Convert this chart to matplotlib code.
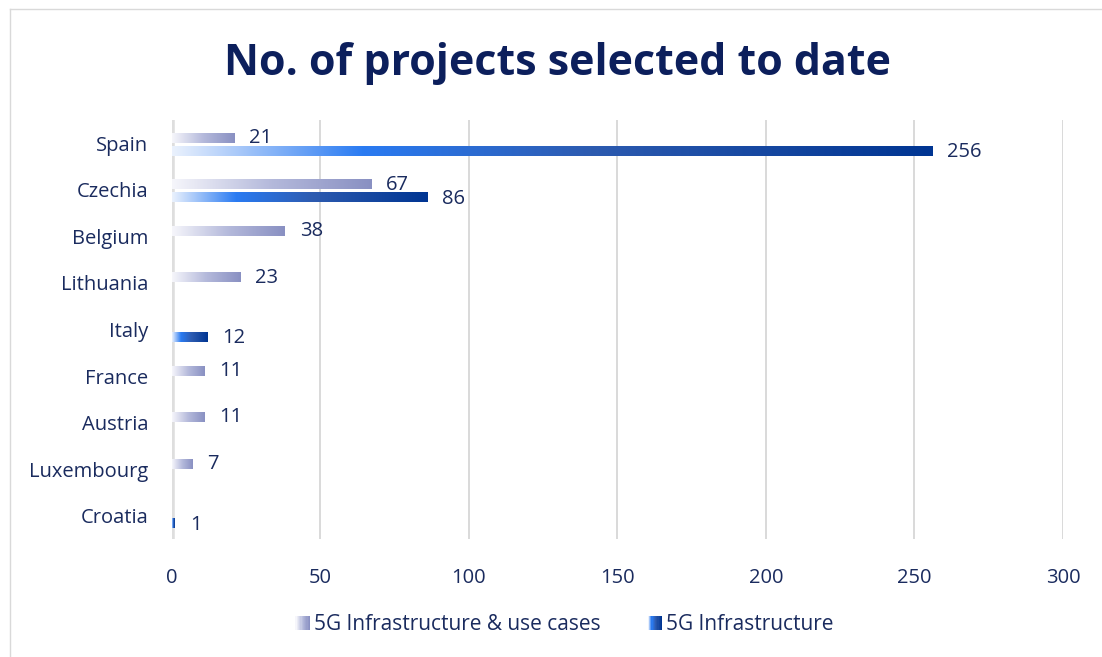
import numpy as np
import matplotlib
matplotlib.use('Agg')
import matplotlib.pyplot as plt
from matplotlib.colors import LinearSegmentedColormap
from matplotlib.patches import Rectangle
from matplotlib.legend_handler import HandlerBase

countries = ['Spain', 'Czechia', 'Belgium', 'Lithuania', 'Italy',
             'France', 'Austria', 'Luxembourg', 'Croatia']
useCases = [21, 67, 38, 23, None, 11, 11, 7, None]
infra = [256, 86, None, None, 12, None, None, None, 1]
seriesNames = ['5G Infrastructure & use cases', '5G Infrastructure']
xTicks = [0, 50, 100, 150, 200, 250, 300]

textColor = '#1a2b5e'
plt.rcParams['font.family'] = ['Open Sans', 'DejaVu Sans']

cmapUse = LinearSegmentedColormap.from_list('use', ['#f6f6fb', '#b4b9db', '#8990c2'])
cmapInfra = LinearSegmentedColormap.from_list(
    'infra', [(0.0, '#eaf1fd'), (0.25, '#2a7bf2'), (0.55, '#2d5bb0'), (1.0, '#003592')])


# legend marker drawn as a row of thin slices so it shows the gradient
class GradientHandler(HandlerBase):
    def __init__(self, cmap):
        super().__init__()
        self.cmap = cmap

    def create_artists(self, legend, orig_handle, xdescent, ydescent,
                       width, height, fontsize, trans):
        steps = 12
        side = height * 1.0
        x0 = width - side
        arts = []
        for i in range(steps):
            r = Rectangle((x0 - xdescent + side * i / steps, -ydescent),
                          side / steps + 0.1, side,
                          facecolor=self.cmap(i / (steps - 1)), edgecolor='none',
                          transform=trans)
            arts.append(r)
        return arts


def drawBar(ax, value, yc, h, cmap):
    grad = np.linspace(0, 1, 256).reshape(1, -1)
    ax.imshow(grad, cmap=cmap, aspect='auto', interpolation='bilinear',
              extent=[0, value, yc + h / 2, yc - h / 2], zorder=3)


fig = plt.figure(figsize=(11.02, 6.57), dpi=100)
ax = fig.add_axes([0.156, 0.1796, 0.8086, 0.6378])

barH = 0.2
offset = 0.14
shift = 0.03
for i, (a, b) in enumerate(zip(useCases, infra)):
    if a is not None:
        drawBar(ax, a, i - offset + shift, barH, cmapUse)
        ax.text(a + 5, i - offset + shift, str(a), va='center', ha='left',
                fontsize=14.5, color=textColor, zorder=4)
    if b is not None:
        drawBar(ax, b, i + offset + shift, barH, cmapInfra)
        ax.text(b + 5, i + offset + shift + 0.02, str(b), va='center', ha='left',
                fontsize=14.5, color=textColor, zorder=4)

ax.set_xlim(0, 300)
ax.set_ylim(len(countries) - 0.5, -0.5)
ax.set_xticks(xTicks)
ax.set_xticklabels([str(t) for t in xTicks])
ax.set_yticks(range(len(countries)))
ax.set_yticklabels(countries)
ax.tick_params(axis='both', length=0, labelsize=14.5, labelcolor=textColor)
ax.tick_params(axis='x', pad=21)
ax.tick_params(axis='y', pad=17)

for t in xTicks[1:]:
    ax.axvline(t, color='#d9d9d9', lw=1.4, zorder=1)
ax.axvline(0, color='#dedede', lw=4, zorder=2)
for s in ax.spines.values():
    s.set_visible(False)

fig.text(0.506, 0.903, 'No. of projects selected to date', ha='center', va='center',
         fontsize=31, fontweight='bold', color='#0c1f5c')

h1 = Rectangle((0, 0), 1, 1)
h2 = Rectangle((0, 0), 1, 1)
fig.legend([h1, h2], seriesNames, loc='center', bbox_to_anchor=(0.512, 0.049),
           ncol=2, frameon=False, fontsize=15, labelcolor=textColor,
           handlelength=0.75, handletextpad=0.2, columnspacing=2.2,
           handler_map={h1: GradientHandler(cmapUse), h2: GradientHandler(cmapInfra)})

# light chart-area border along top and left
fig.add_artist(plt.Line2D([10 / 1102, 1], [1 - 9 / 657, 1 - 9 / 657],
                          transform=fig.transFigure, color='#d9d9d9', lw=1))
fig.add_artist(plt.Line2D([10 / 1102, 10 / 1102], [0, 1 - 9 / 657],
                          transform=fig.transFigure, color='#d9d9d9', lw=1))

fig.savefig('out.png', dpi=100)
